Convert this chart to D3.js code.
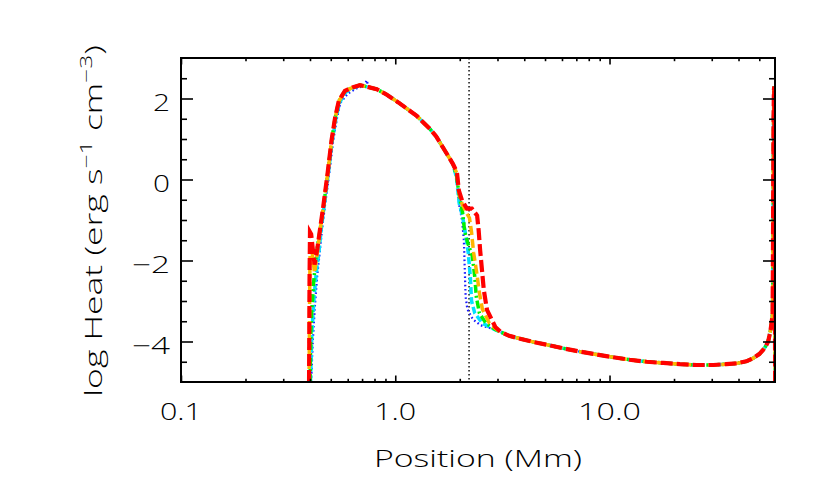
<!DOCTYPE html>
<html><head><meta charset="utf-8">
<script src="https://cdn.jsdelivr.net/npm/d3@7"></script>
<style>body{margin:0;background:#fff}svg{display:block}</style>
</head><body>
<svg id="chart" width="830" height="498"></svg>
<script>
// ---------- data ----------
const xMajorTicks = [0.1, 1, 10];
const xMajorLabels = ["0.1", "1.0", "10.0"];
const xMinorTicks = [0.2,0.3,0.4,0.5,0.6,0.7,0.8,0.9,2,3,4,5,6,7,8,9,20,30,40,50];
const yMajorTicks = [-4, -2, 0, 2];
const yMajorLabels = ["\u22124", "\u22122", "0", "2"];
const yMinorTicks = [-4.5,-3.5,-3,-2.5,-1.5,-1,-0.5,0.5,1,1.5,2.5];
const dividerPosition = 2.21;
const xTitle = "Position (Mm)";

// footpoint + rise (per series)
const redFootX    = [0.396,0.398,0.400,0.405,0.420,0.433,0.445,0.461,0.483,0.504,0.524,0.545,0.582,0.63,0.684,0.75];
const redFootY    = [-5,-2.5,-1.3,-1.35,-2.1,-1.7,-1.25,-0.68,0.14,0.96,1.53,1.94,2.19,2.27,2.33,2.28];
const orangeFootX = [0.396,0.399,0.401,0.407,0.420,0.433,0.445,0.461,0.483,0.504,0.524,0.545,0.582,0.63,0.684,0.75];
const orangeFootY = [-5,-2.5,-1.6,-1.7,-2.3,-1.8,-1.3,-0.7,0.12,0.94,1.52,1.93,2.18,2.27,2.33,2.28];
const greenFootX  = [0.400,0.405,0.415,0.425,0.435,0.447,0.462,0.483,0.504,0.524,0.545,0.582,0.63,0.684,0.75];
const greenFootY  = [-5,-3.5,-2.6,-2.0,-1.6,-1.2,-0.7,0.12,0.94,1.52,1.93,2.18,2.27,2.33,2.28];
const cyanFootX   = [0.402,0.408,0.418,0.428,0.440,0.452,0.467,0.487,0.508,0.528,0.55,0.585,0.63,0.684,0.75];
const cyanFootY   = [-5,-3.8,-2.9,-2.3,-1.8,-1.2,-0.6,0.15,0.95,1.5,1.9,2.15,2.25,2.33,2.28];
const blueFootX   = [0.405,0.412,0.422,0.432,0.444,0.456,0.471,0.492,0.513,0.534,0.555,0.60,0.66,0.72,0.735,0.75];
const blueFootY   = [-5,-4.0,-3.1,-2.4,-1.8,-1.2,-0.6,0.15,0.95,1.5,1.9,2.12,2.25,2.32,2.45,2.3];

// shared upper chromosphere / transition top
const topX = [0.819,0.91,1.029,1.10,1.26,1.45,1.55,1.67,1.78,1.86];
const topY = [2.23,2.10,1.91,1.80,1.57,1.25,1.07,0.79,0.55,0.38];

// transition region (per series)
const redTransX    = [1.94,1.98,2.05,2.16,2.28,2.41,2.45,2.49,2.54,2.59,2.68,2.93,3.10];
const redTransY    = [0.18,-0.27,-0.52,-0.72,-0.72,-0.89,-1.25,-1.75,-2.24,-2.73,-3.22,-3.64,-3.76];
const orangeTransX = [1.94,1.98,2.05,2.14,2.22,2.27,2.32,2.40,2.47,2.55,2.75,3.0,3.15];
const orangeTransY = [0.15,-0.3,-0.6,-0.8,-0.95,-1.3,-1.8,-2.3,-2.8,-3.2,-3.55,-3.72,-3.78];
const greenTransX  = [1.93,1.99,2.06,2.11,2.19,2.29,2.35,2.39,2.47,2.65,2.93,3.15];
const greenTransY  = [0.1,-0.4,-0.8,-1.3,-1.6,-1.9,-2.4,-2.9,-3.3,-3.55,-3.70,-3.78];
const cyanTransX   = [1.93,1.99,2.06,2.12,2.19,2.24,2.27,2.35,2.55,2.9,3.15];
const cyanTransY   = [0.05,-0.6,-0.9,-1.3,-1.8,-2.4,-3.0,-3.3,-3.55,-3.70,-3.78];
const blueTransX   = [1.93,1.99,2.05,2.09,2.11,2.13,2.17,2.3,2.5,2.9,3.15];
const blueTransY   = [0.05,-0.65,-1.0,-1.5,-2.2,-2.9,-3.2,-3.45,-3.6,-3.70,-3.78];

// shared corona
const coronaX = [3.4,3.82,4.4,5.09,6.1,7.28,8.7,10.4,12.4,14.9,17.8,21.3,25.5,30.5,35,39.2,43.5,46.9,50,52.2,53.8,55.0,55.8,56.5,57.2,57.7];
const coronaY = [-3.86,-3.93,-4.01,-4.08,-4.17,-4.25,-4.32,-4.39,-4.45,-4.50,-4.53,-4.56,-4.58,-4.58,-4.56,-4.54,-4.49,-4.41,-4.31,-4.20,-4.10,-4.0,-3.85,-3.7,-3.5,-3.3];

// shared far footpoint
const endX = [57.9,58.1,58.3,58.5,58.7,58.9,59.1,59.3];
const endY = [-2.0,0.0,1.5,2.2,2.3,1.0,-2.0,-5.0];

const seriesNames  = ["blue","cyan","green","orange","red"];
const seriesColors = ["#1a1aff","#00e0ff","#00f000","#ffb400","#ff0000"];
const seriesDash   = ["1.6,2.6","7,3","8,3,2,3","9,4","12,4"];
const seriesWidth  = [2.2,3.5,3.5,3.5,4.2];

// ---------- build ----------
function zip(xs, ys){ return xs.map((x,i)=>({x, y: ys[i]})); }
function build(fx,fy,tx,ty){
  return [].concat(zip(fx,fy), zip(topX,topY), zip(tx,ty), zip(coronaX,coronaY), zip(endX,endY));
}
const seriesData = [
  build(blueFootX,blueFootY,blueTransX,blueTransY),
  build(cyanFootX,cyanFootY,cyanTransX,cyanTransY),
  build(greenFootX,greenFootY,greenTransX,greenTransY),
  build(orangeFootX,orangeFootY,orangeTransX,orangeTransY),
  build(redFootX,redFootY,redTransX,redTransY)
];

const svg = d3.select("#chart");
const M = {left:181, right:775, top:58, bottom:382};
const x = d3.scaleLog().domain([0.1, 59.2]).range([M.left, M.right]);
const y = d3.scaleLinear().domain([-5, 3]).range([M.bottom, M.top]);
const font = "'Open Sans', 'DejaVu Sans', sans-serif";
const fw = 300;

svg.append("defs").append("clipPath").attr("id","plotclip")
  .append("rect").attr("x",M.left).attr("y",M.top)
  .attr("width",M.right-M.left).attr("height",M.bottom-M.top);

// divider line
svg.append("line")
  .attr("x1",x(dividerPosition)).attr("x2",x(dividerPosition))
  .attr("y1",M.top).attr("y2",M.bottom)
  .attr("stroke","#000").attr("stroke-width",1.4).attr("stroke-dasharray","1.4,2.6");

const line = d3.line().x(d=>x(d.x)).y(d=>y(d.y));
const g = svg.append("g").attr("clip-path","url(#plotclip)");
seriesData.forEach((data,i)=>{
  g.append("path").datum(data)
    .attr("d",line).attr("fill","none")
    .attr("stroke",seriesColors[i]).attr("stroke-width",seriesWidth[i])
    .attr("stroke-dasharray",seriesDash[i])
    .attr("class","series-"+seriesNames[i]);
});

// axes ticks
function styleAxis(sel){
  sel.select(".domain").remove();
  sel.selectAll(".tick line").attr("stroke","#000").attr("stroke-width",1.6);
  sel.selectAll(".tick text").remove();
}
const xLenMaj = 6.5, xLenMin = 3.2, yLenMaj = 12, yLenMin = 6;
svg.append("g").attr("transform",`translate(0,${M.bottom})`)
  .call(d3.axisTop(x).tickValues(xMajorTicks).tickSize(xLenMaj)).call(styleAxis);
svg.append("g").attr("transform",`translate(0,${M.bottom})`)
  .call(d3.axisTop(x).tickValues(xMinorTicks).tickSize(xLenMin)).call(styleAxis);
svg.append("g").attr("transform",`translate(0,${M.top})`)
  .call(d3.axisBottom(x).tickValues(xMajorTicks).tickSize(xLenMaj)).call(styleAxis);
svg.append("g").attr("transform",`translate(0,${M.top})`)
  .call(d3.axisBottom(x).tickValues(xMinorTicks).tickSize(xLenMin)).call(styleAxis);
svg.append("g").attr("transform",`translate(${M.left},0)`)
  .call(d3.axisRight(y).tickValues(yMajorTicks).tickSize(yLenMaj)).call(styleAxis);
svg.append("g").attr("transform",`translate(${M.left},0)`)
  .call(d3.axisRight(y).tickValues(yMinorTicks).tickSize(yLenMin)).call(styleAxis);
svg.append("g").attr("transform",`translate(${M.right},0)`)
  .call(d3.axisLeft(y).tickValues(yMajorTicks).tickSize(yLenMaj)).call(styleAxis);
svg.append("g").attr("transform",`translate(${M.right},0)`)
  .call(d3.axisLeft(y).tickValues(yMinorTicks).tickSize(yLenMin)).call(styleAxis);

// frame
svg.append("rect").attr("x",M.left).attr("y",M.top)
  .attr("width",M.right-M.left).attr("height",M.bottom-M.top)
  .attr("fill","none").attr("stroke","#000").attr("stroke-width",2);

// tick labels
const xLabelWidths = [42,42,63];
xMajorTicks.forEach((v,i)=>{
  svg.append("text").attr("x",x(v)).attr("y",420)
    .attr("text-anchor","middle").attr("font-family",font).attr("font-weight",fw).attr("font-size",23)
    .attr("textLength",xLabelWidths[i]).attr("lengthAdjust","spacingAndGlyphs")
    .text(xMajorLabels[i]);
});
const yLabelWidths = [38,38,17,17];
yMajorTicks.forEach((v,i)=>{
  svg.append("text").attr("x",170).attr("y",y(v)+12)
    .attr("text-anchor","end").attr("font-family",font).attr("font-weight",fw).attr("font-size",23)
    .attr("textLength",yLabelWidths[i]).attr("lengthAdjust","spacingAndGlyphs")
    .text(yMajorLabels[i]);
});

// x title
svg.append("text").attr("x",(M.left+M.right)/2).attr("y",467)
  .attr("text-anchor","middle").attr("font-family",font).attr("font-weight",fw).attr("font-size",23)
  .attr("textLength",208).attr("lengthAdjust","spacingAndGlyphs")
  .text(xTitle);

// y title with superscripts
const yg = svg.append("g");
const yt = yg.append("text").attr("font-family",font).attr("font-weight",fw).attr("font-size",23).attr("text-anchor","middle");
yt.append("tspan").text("log Heat (erg s");
yt.append("tspan").attr("font-size",16).attr("dy",-10).text("\u22121");
yt.append("tspan").attr("dy",10).text(" cm");
yt.append("tspan").attr("font-size",16).attr("dy",-10).text("\u22123");
yt.append("tspan").attr("dy",10).text(")");
const w = yt.node().getComputedTextLength();
const sx = 352 / w;
yg.attr("transform",`translate(102,221) rotate(-90) scale(${sx},1)`);
</script>
</body></html>
